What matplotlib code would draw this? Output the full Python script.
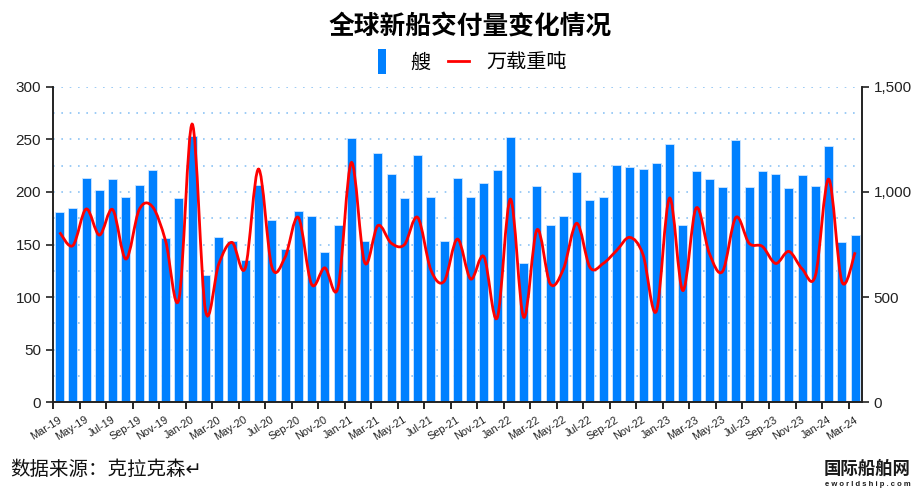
import numpy as np
import matplotlib
matplotlib.use('Agg')
import matplotlib.pyplot as plt
from matplotlib.path import Path
from matplotlib.patches import PathPatch, Patch, Rectangle
from matplotlib.lines import Line2D
from matplotlib.legend_handler import HandlerPatch

plt.rcParams['font.family'] = ['Liberation Sans', 'Noto Sans CJK SC', 'DejaVu Sans']

# monthly data, Mar-19 .. Mar-24
months = ['Mar-19', 'Apr-19', 'May-19', 'Jun-19', 'Jul-19', 'Aug-19', 'Sep-19', 'Oct-19', 'Nov-19', 'Dec-19',
          'Jan-20', 'Feb-20', 'Mar-20', 'Apr-20', 'May-20', 'Jun-20', 'Jul-20', 'Aug-20', 'Sep-20', 'Oct-20',
          'Nov-20', 'Dec-20', 'Jan-21', 'Feb-21', 'Mar-21', 'Apr-21', 'May-21', 'Jun-21', 'Jul-21', 'Aug-21',
          'Sep-21', 'Oct-21', 'Nov-21', 'Dec-21', 'Jan-22', 'Feb-22', 'Mar-22', 'Apr-22', 'May-22', 'Jun-22',
          'Jul-22', 'Aug-22', 'Sep-22', 'Oct-22', 'Nov-22', 'Dec-22', 'Jan-23', 'Feb-23', 'Mar-23', 'Apr-23',
          'May-23', 'Jun-23', 'Jul-23', 'Aug-23', 'Sep-23', 'Oct-23', 'Nov-23', 'Dec-23', 'Jan-24', 'Feb-24',
          'Mar-24']

ships = [181, 185, 213, 202, 212, 195, 207, 221, 156, 194,
         253, 121, 157, 153, 135, 207, 173, 146, 182, 177,
         143, 169, 251, 153, 237, 217, 194, 235, 195, 153,
         213, 195, 209, 221, 252, 132, 206, 169, 177, 219,
         192, 195, 226, 224, 222, 228, 246, 169, 220, 212,
         205, 249, 205, 220, 217, 204, 216, 206, 244, 152,
         159]

dwt = [808, 745, 919, 795, 916, 681, 916, 930, 765, 491,
       1323, 436, 657, 760, 638, 1109, 645, 689, 879, 561,
       639, 546, 1140, 665, 840, 757, 749, 879, 629, 575,
       776, 586, 692, 401, 966, 404, 820, 563, 634, 851,
       641, 660, 721, 784, 702, 432, 971, 531, 923, 708,
       622, 879, 756, 741, 660, 717, 634, 602, 1061, 573,
       713]


def smooth_path(x, y, k=1 / 6):
	# cubic bezier through the points (catmull-rom style, like a smoothed excel line)
	pts = np.column_stack([x, y]).astype(float)
	n = len(pts)
	verts = [pts[0]]
	codes = [Path.MOVETO]
	for i in range(n - 1):
		p0 = pts[max(i - 1, 0)]
		p1 = pts[i]
		p2 = pts[i + 1]
		p3 = pts[min(i + 2, n - 1)]
		c1 = p1 + (p2 - p0) * k
		c2 = p2 - (p3 - p1) * k
		verts += [c1, c2, p2]
		codes += [Path.CURVE4] * 3
	return Path(verts, codes)


def narrow_box(legend, orig_handle, xdescent, ydescent, width, height, fontsize):
	w = width * 0.38
	return Rectangle((-xdescent + (width - w) / 2, -ydescent - height * 0.25), w, height * 1.5)


fig = plt.figure(figsize=(9.17, 4.91), dpi=100)
ax = fig.add_axes([0.0578, 0.181, 0.882, 0.642])
ax2 = ax.twinx()

x = np.arange(len(months))
ax.bar(x, ships, width=0.68, color='#0080ff', edgecolor='#cfe6ff', linewidth=0.6, zorder=2)

ax.set_xlim(-0.5, len(months) - 0.5)
ax.set_ylim(0, 300)
ax.set_yticks(range(0, 301, 50))
ax.set_yticks(range(0, 301, 25), minor=True)
ax.yaxis.grid(True, which='both', color='#8cc4f5', linestyle=(0, (1, 4)), linewidth=1.2, zorder=0)
ax.set_axisbelow(True)
ax.tick_params(axis='y', which='minor', length=0)
ax.tick_params(axis='y', which='major', labelsize=11, length=5, width=1.2, colors='#222222')

# x ticks at bar boundaries every two months, labels under the bars
ax.set_xticks(np.arange(-0.5, len(months), 2))
ax.set_xticklabels([])
ax.tick_params(axis='x', length=5, width=1.2)
for i in range(0, len(months), 2):
	ax.text(i - 0.1, -12, months[i], rotation=32, ha='right', va='top', rotation_mode='anchor',
			fontsize=7.8, color='#222222')

ax2.set_ylim(0, 1500)
ax2.set_yticks([0, 500, 1000, 1500])
ax2.set_yticklabels(['0', '500', '1,000', '1,500'])
ax2.tick_params(axis='y', labelsize=11, length=5, width=1.2, colors='#222222')
ax2.add_patch(PathPatch(smooth_path(x, dwt), facecolor='none', edgecolor='#ff0000', linewidth=2.0, zorder=3))

for a in (ax, ax2):
	a.spines['top'].set_visible(False)
	for s in ('left', 'right', 'bottom'):
		a.spines[s].set_linewidth(1.2)
		a.spines[s].set_color('#222222')

cjk = ['Noto Sans CJK SC', 'DejaVu Sans']
fig.text(0.5125, 0.945, '全球新船交付量变化情况', ha='center', va='center', fontsize=18.5,
		 fontweight='bold', family=cjk)

handles = [Patch(facecolor='#0080ff', edgecolor='none'),
		   Line2D([0], [0], color='#ff0000', linewidth=2.0)]
fig.legend(handles, ['艘', '万载重吨'], loc='center', bbox_to_anchor=(0.512, 0.872), ncol=2,
		   frameon=False, prop={'family': cjk, 'size': 14.5}, handlelength=1.0, handleheight=0.9,
		   columnspacing=0.9, handletextpad=0.9,
		   handler_map={Patch: HandlerPatch(patch_func=narrow_box)})

fig.text(0.011, 0.043, '数据来源：克拉克森↵', ha='left', va='center', fontsize=14, family=cjk,
		 style='italic', color='#111111')
fig.text(0.946, 0.046, '国际船舶网', ha='center', va='center', fontsize=12.5, fontweight='bold',
		 family=cjk, color='#1a1a1a')
fig.text(0.946, 0.013, 'e w o r l d s h i p . c o m', ha='center', va='center', fontsize=5.5,
		 fontweight='bold', color='#1a1a1a')

fig.savefig('out.png', dpi=100)
